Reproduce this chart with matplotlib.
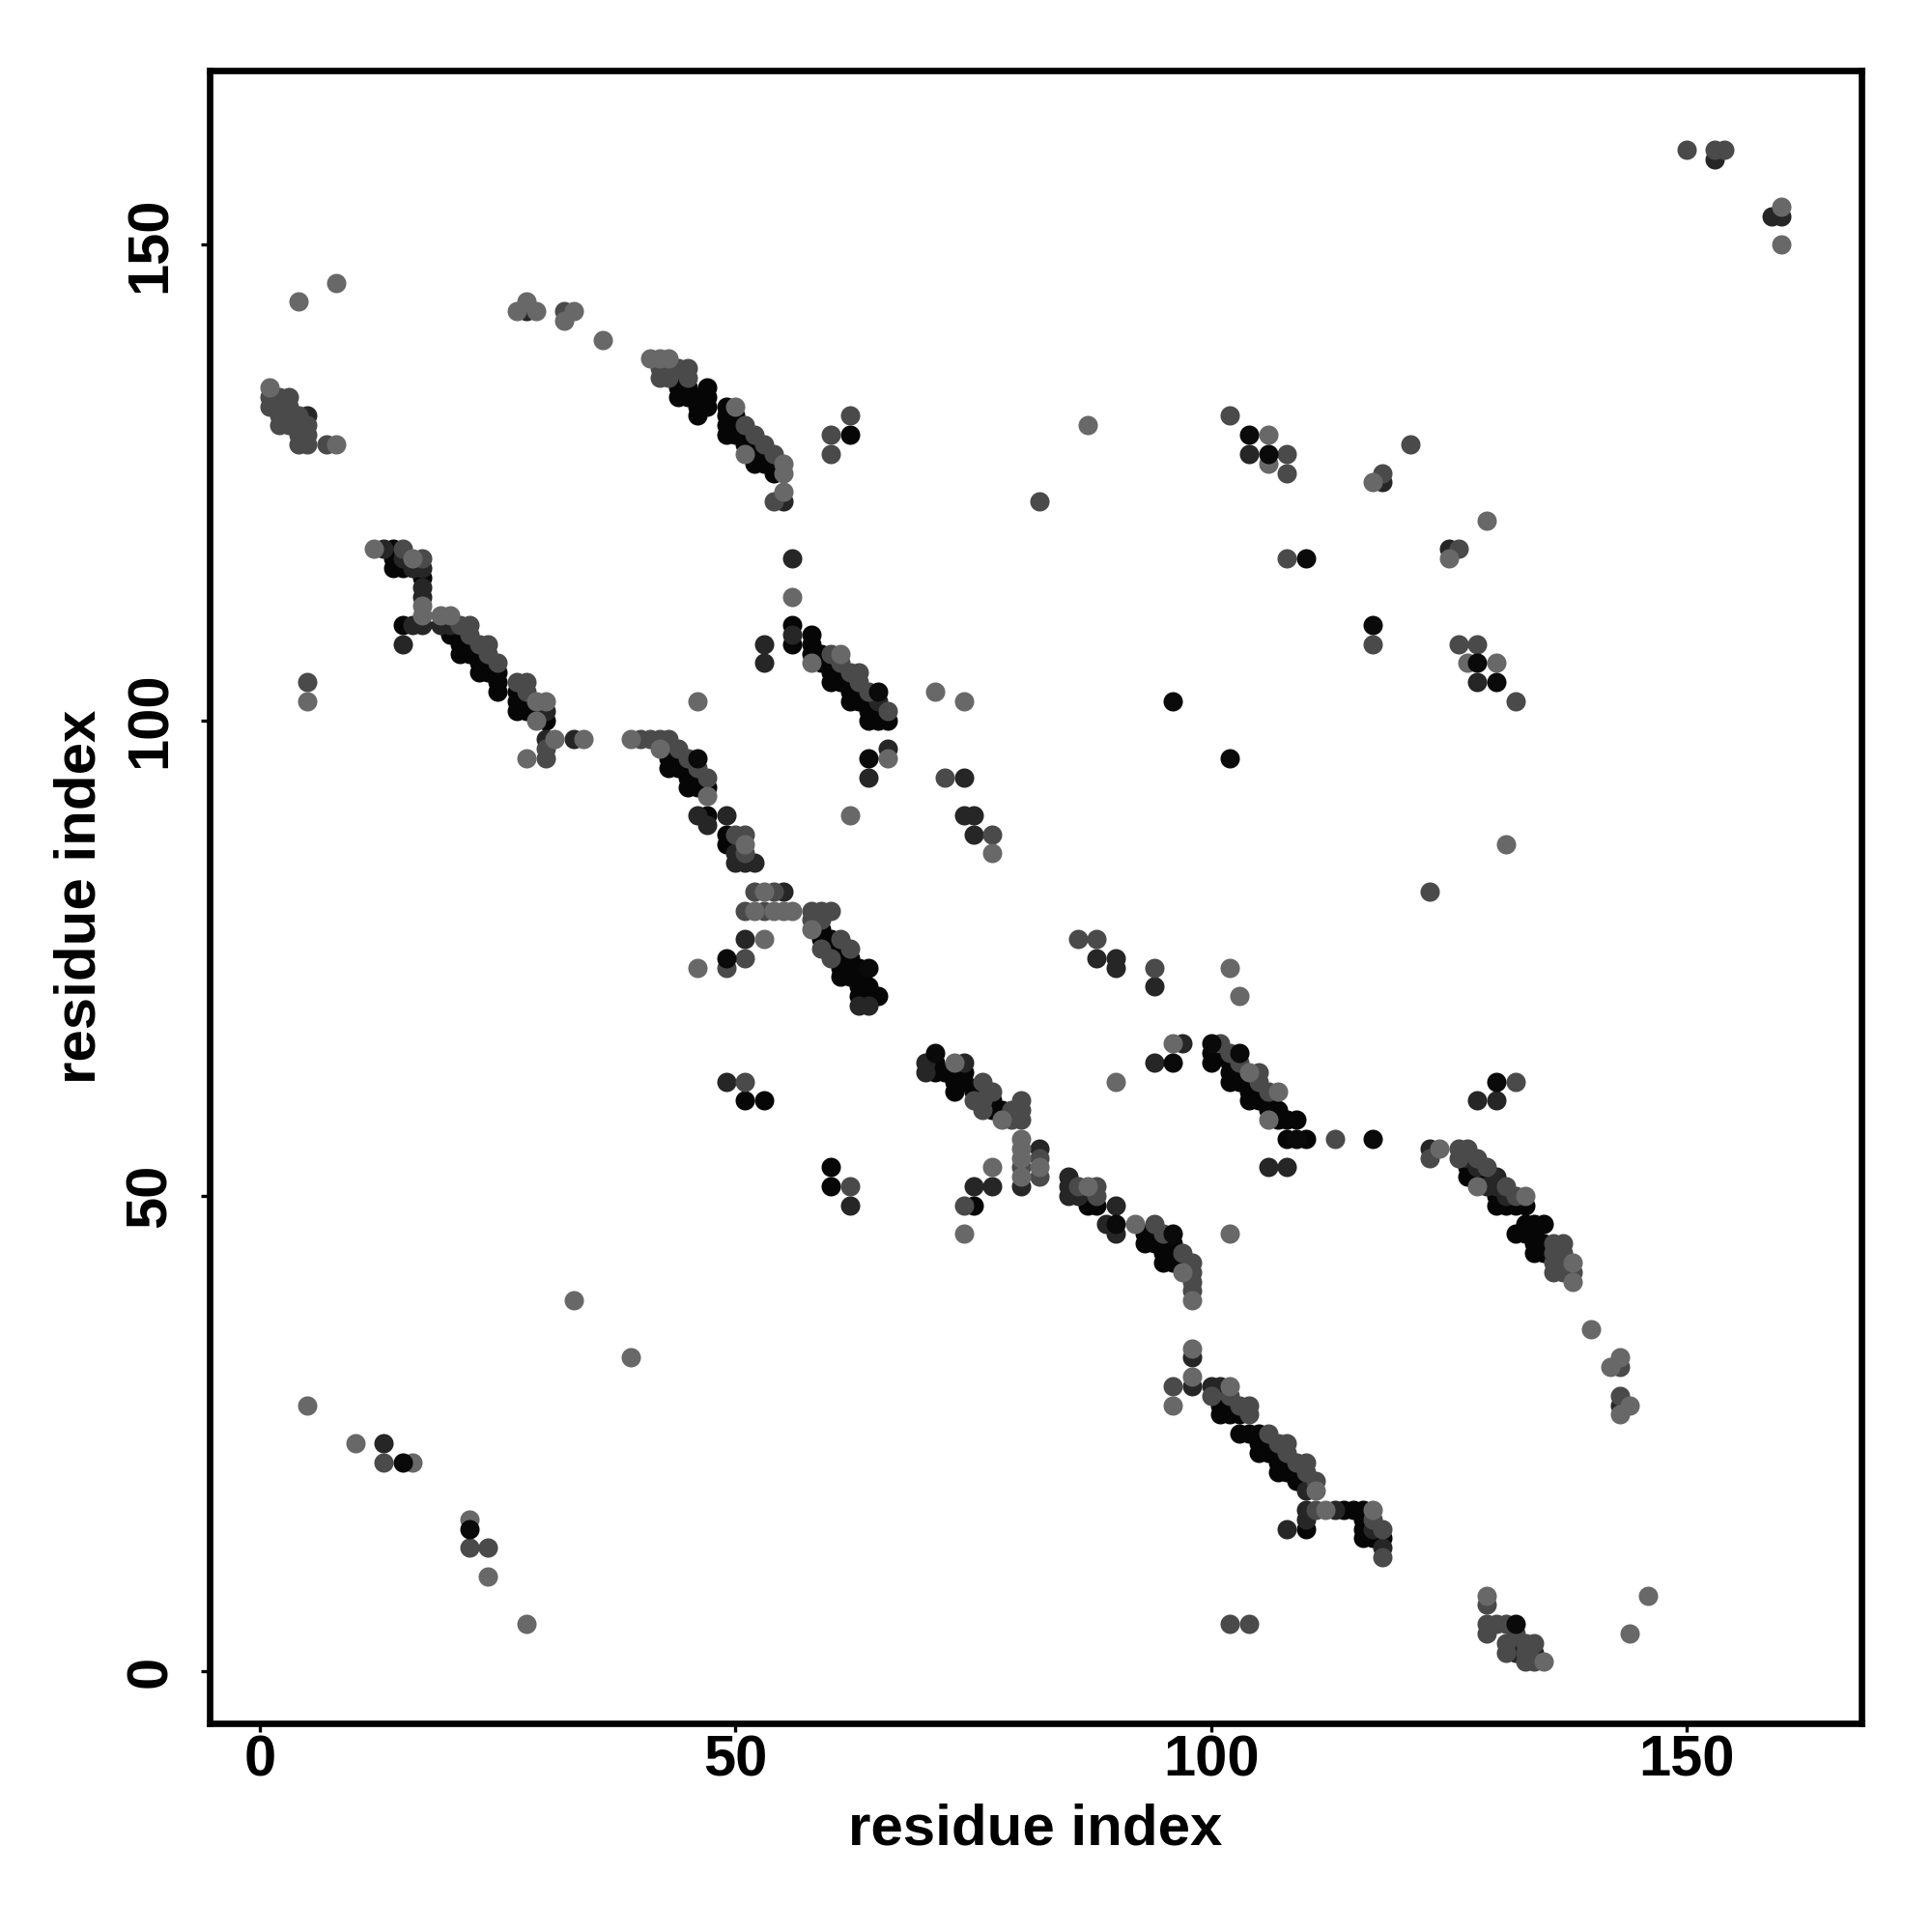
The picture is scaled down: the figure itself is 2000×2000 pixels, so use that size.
import matplotlib
matplotlib.use("Agg")
import matplotlib.pyplot as plt

plt.rcParams['font.family'] = ['Liberation Sans', 'DejaVu Sans']

# contacts (residue i, residue j), grouped by how dark the dot is
black = [
    (44,136),(44,135),(44,134),(45,135),(45,134),(46,134),(46,133),(46,132),(47,135),(47,134),(47,133),
    (49,133),(49,132),(49,131),(49,130),(50,132),(50,131),(50,130),(51,130),(51,129),(52,129),(52,128),
    (52,127),(53,128),(53,127),(54,127),(54,126),(62,130),
    (14,118),(14,117),(14,116),(15,116),(17,115),(15,110),(20,109),(21,109),(21,108),(21,107),(22,108),
    (22,107),(23,107),(23,106),(23,105),(24,106),(24,105),(25,105),(25,104),(25,103),(27,103),(27,102),
    (27,101),(28,102),(28,101),(29,101),(30,100),(56,110),(56,108),(58,109),(58,108),(58,107),(59,107),(59,106),
    (60,106),(60,105),(60,104),(61,105),(61,104),(62,104),(62,103),(62,102),(63,103),(63,102),(64,102),
    (64,101),(64,100),(65,101),(65,100),(66,100),(43,97),(43,96),(43,95),(44,96),(44,95),(45,95),(45,94),
    (45,93),(46,94),(46,93),(47,93),(47,90),(49,88),(49,87),(50,87),
    (59,78),(59,77),(60,77),(60,76),(61,76),(61,75),(61,74),(61,73),(62,75),(62,74),(62,73),(63,74),
    (63,73),(63,72),(63,71),(64,72),(64,71),(65,71),(51,60),(53,60),
    (60,53),(60,51),(71,64),(71,63),(72,63),(73,63),(73,62),(73,61),(74,63),(74,62),(75,61),(76,61),
    (77,60),(77,59),(78,59),(87,50),(87,49),(88,49),(75,49),(93,46),(93,45),(94,46),(94,45),(95,45),
    (95,44),(95,43),(96,45),(96,44),(96,43),(97,43),
    (100,65),(100,64),(101,65),(102,64),(102,63),(102,62),(103,63),(103,62),(104,62),(104,61),(104,60),
    (105,61),(105,60),(106,60),(106,59),(107,59),(107,58),(108,58),(109,58),(108,56),(110,56),
    (127,53),(127,52),(128,52),(129,52),(130,50),(130,49),(131,49),(132,49),(133,49),(133,47),(134,47),
    (135,47),(132,46),(133,46),(134,46),(134,45),(134,44),(135,45),(135,44),
    (101,29),(101,28),(101,27),(102,28),(102,27),(103,27),(103,25),(104,25),(105,25),(105,24),(105,23),
    (106,24),(106,23),(107,23),(107,22),(107,21),(108,22),(108,21),(109,21),(109,20),(110,20),
    (114,17),(115,17),(116,17),(116,16),(116,15),(116,14),(117,14),(118,14),(110,15),
]
dark = [
    (28,143),(5,132),(55,123),(17,116),(17,114),(17,113),(17,110),(16,110),(16,116),(15,117),(15,108),
    (13,118),(19,110),(20,110),(30,101),(30,98),(33,98),(53,106),(53,108),(65,102),(66,97),
    (56,117),(56,109),(64,94),(46,90),(47,89),(49,90),(50,86),(50,85),(51,85),(52,85),(55,82),(51,77),
    (74,94),(74,90),(75,90),(63,70),(64,70),
    (75,88),(88,75),(90,75),(90,74),(49,62),(62,49),(77,51),(75,51),(70,64),(70,63),(74,64),(85,52),(85,51),
    (85,50),(90,49),(89,47),(90,46),(80,51),(82,55),(94,72),(106,53),(128,60),(130,60),(123,55),(127,54),
    (128,53),(129,51),(130,52),(130,51),(131,50),(143,28),(100,30),(101,30),(98,33),(98,30),(110,17),
    (113,17),(117,15),(118,13),(108,15),(110,19),(110,16),(13,24),(132,3),(132,2),(134,2),
    (153,159),(118,125),(125,118),(128,104),(108,53),(94,64),(97,66),(159,153),(160,153),(104,128),(86,50),
]
mid = [
    (2,134),(3,134),(1,134),(1,133),(2,133),(2,132),(2,131),(3,133),(3,132),(3,131),(4,132),(4,131),
    (4,130),(4,129),(5,131),(5,130),(5,129),(7,129),(60,130),(60,128),(62,132),(32,143),(42,137),(42,136),
    (43,137),(43,136),(44,137),(45,137),(45,136),(51,131),(52,130),(53,129),(54,128),(54,123),
    (15,118),(17,117),(21,110),(22,110),(22,109),(23,108),(24,108),(24,107),(25,106),(27,104),(28,104),
    (28,103),(30,97),(30,96),(5,104),(40,98),(41,98),(42,98),(43,98),(44,97),(45,96),(47,94),(46,95),
    (58,80),(59,80),(60,80),(58,79),(59,79),(61,77),(62,76),(60,75),(59,76),(75,60),
    (60,107),(61,106),(62,105),(63,105),(63,104),(64,103),(66,101),(50,88),(51,88),(51,86),(52,82),(54,82),
    (51,80),(53,80),(51,75),(49,74),(72,94),(77,88),(86,77),(88,77),(51,62),(62,51),(74,49),(80,60),(80,59),
    (80,58),(79,58),(79,59),(80,53),(82,54),(82,52),(76,62),(76,60),(76,59),(77,61),(86,51),(88,51),(88,50),
    (94,47),(95,46),(97,44),(98,43),(98,42),(98,41),(98,40),(102,65),(103,64),(105,63),(105,62),(106,61),
    (101,66),(94,74),(123,54),(126,55),(127,55),(126,54),(128,54),(129,53),(131,51),(132,50),(136,45),
    (137,45),(136,44),(136,43),(136,42),(137,44),(137,43),(137,42),(138,42),(143,32),(143,29),(96,30),
    (100,29),(102,29),(103,28),(104,28),(104,27),(106,25),(107,24),(108,24),(108,23),(109,22),(110,22),
    (110,21),(111,20),(111,17),(117,16),(118,15),(118,12),(102,5),(104,5),(129,5),(129,7),(129,4),(130,5),
    (131,5),(131,3),(131,2),(132,4),(133,3),(133,2),(133,1),(134,3),(134,1),(13,22),(24,13),(22,13),
    (150,160),(153,160),(154,160),(82,123),(102,132),(108,128),(108,126),(118,126),(121,129),
    (126,118),(117,108),(126,108),(128,108),(132,102),(132,62),(123,82),(113,56),(108,117),
]
light = [
    (8,146),(4,144),(27,143),(28,144),(29,143),(33,143),(32,142),(36,140),(1,135),(8,129),(41,138),
    (42,138),(43,138),(50,133),(51,128),(55,127),(55,126),(55,124),(56,113),(12,118),(16,117),(17,112),
    (17,111),(19,111),(20,111),(29,102),(30,102),(29,100),(31,98),(34,98),(28,96),(5,102),
    (46,102),(39,98),(42,97),(47,92),(58,106),(61,107),(66,96),(71,103),(74,102),(62,90),(77,86),(51,87),
    (53,82),(52,80),(54,80),(55,80),(56,80),(53,77),(46,74),(58,78),(74,46),(77,53),(80,56),(80,55),
    (80,54),(80,52),(82,53),(78,58),(73,64),(87,51),(92,47),(97,42),(98,39),(102,46),(96,66),(90,62),
    (104,63),(107,61),(106,58),(124,55),(128,51),(133,50),(138,43),(138,41),(140,36),(143,33),(142,32),
    (143,27),(144,28),(98,34),(98,31),(96,28),(102,30),(111,19),(112,17),(117,17),(129,8),(146,8),(144,4),
    (135,1),(33,39),(39,33),(5,28),(10,24),(16,22),(22,16),(24,10),(28,5),(160,154),(160,150),(87,131),
    (106,130),(106,127),(117,125),(129,121),(125,117),(127,106),(130,106),(131,87),(102,74),(103,71),
]
top_black = [(46,96),(65,103),(64,74),(96,64),(103,65),(64,96),(104,130),(106,128),
             (110,117),(117,110),(128,106),(130,104),(96,102),(102,96),(130,62),(117,56),(15,22),(22,15),
             (132,5),(49,75),(71,65),(100,66),(96,46),(90,47),(109,56)]

ticks = [0, 50, 100, 150]
shades = [(black, '#060606'), (dark, '#262626'), (mid, '#4a4a4a'), (light, '#686868'), (top_black, '#0a0a0a')]

fig = plt.figure(figsize=(10, 10), dpi=200)
ax = fig.add_axes([217/2000, 1 - 1784/2000, 1710/2000, 1711/2000])

for pts, col in shades:
    xs, ys = zip(*pts)
    ax.scatter(xs, ys, s=52, c=col, linewidths=0, zorder=2)

ax.set_xlim(-5.3, 168.4)
ax.set_ylim(-5.45, 168.3)
ax.set_xticks(ticks)
ax.set_yticks(ticks)
ax.tick_params(axis='both', length=3.3, width=1.2, labelsize=21.5)
ax.tick_params(axis='x', pad=1)
ax.tick_params(axis='y', pad=8.7)
for lab in ax.get_xticklabels() + ax.get_yticklabels():
    lab.set_fontweight('bold')
for lab in ax.get_yticklabels():
    lab.set_rotation(90)
    lab.set_va('center')
for s in ax.spines.values():
    s.set_linewidth(2.4)
ax.set_xlabel('residue index', fontsize=21.6, fontweight='bold')
ax.set_ylabel('residue index', fontsize=21.6, fontweight='bold')
ax.xaxis.set_label_coords(0.5, -0.048)
ax.yaxis.set_label_coords(-0.0625, 0.5)

fig.savefig('out.png', dpi=200)
